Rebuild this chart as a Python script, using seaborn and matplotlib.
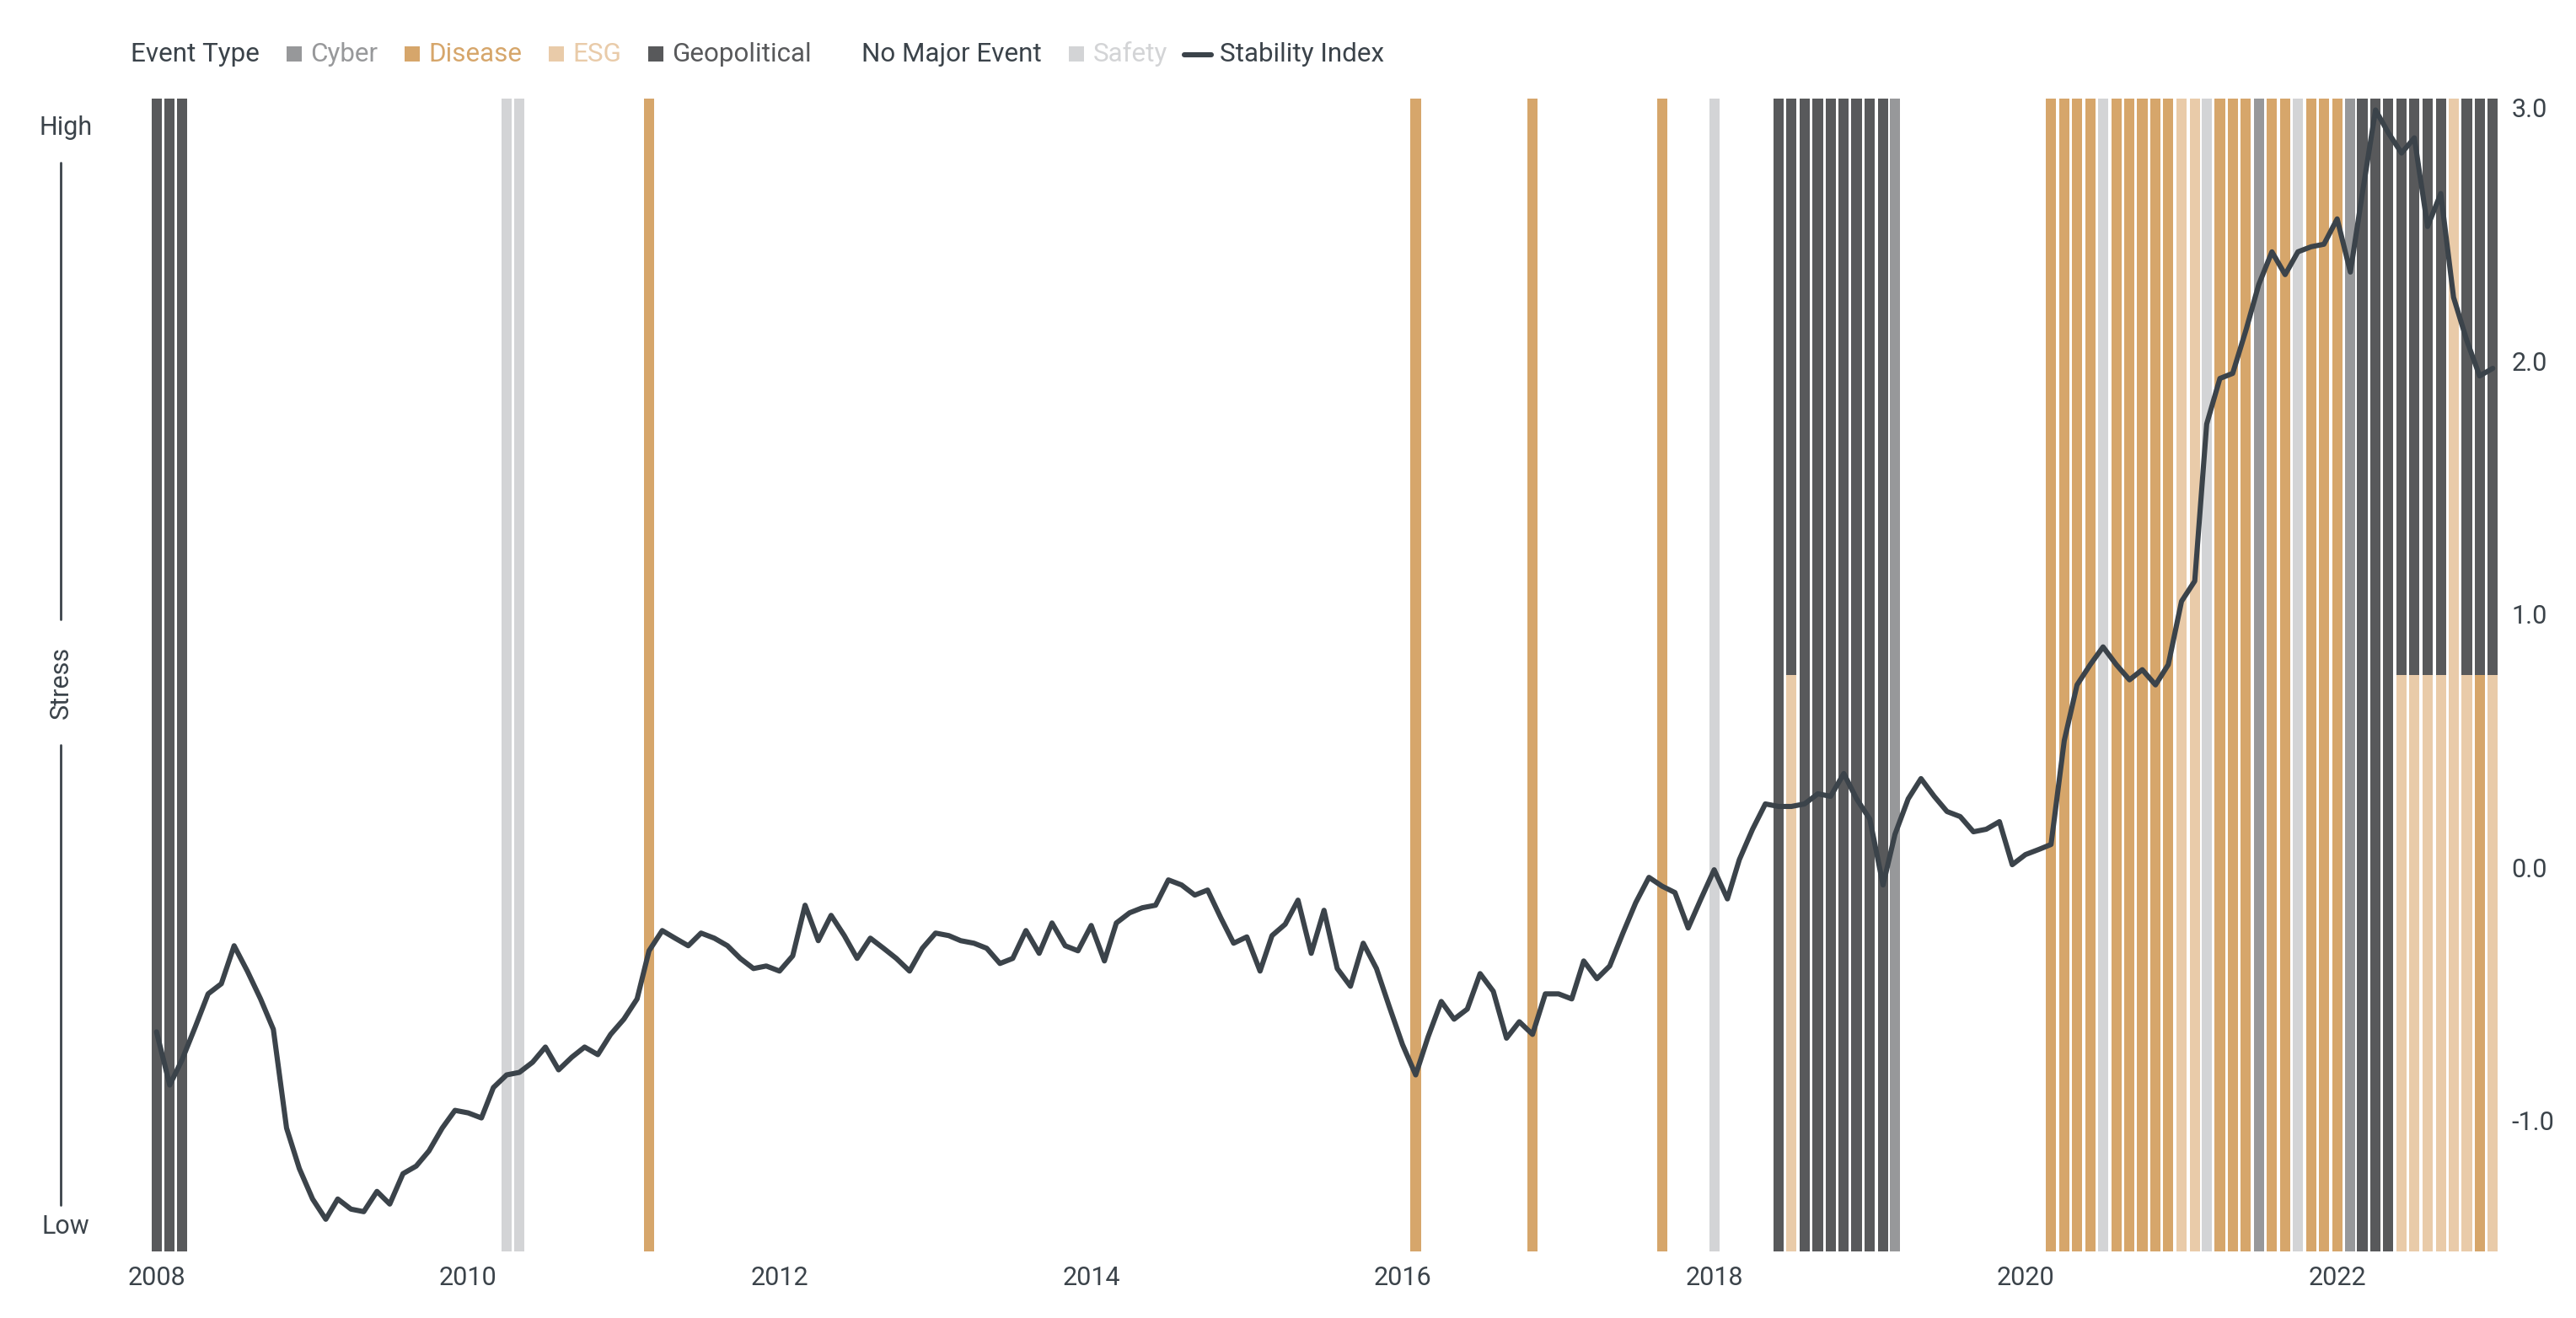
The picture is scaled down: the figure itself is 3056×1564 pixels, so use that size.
import pandas as pd
import matplotlib
matplotlib.use("Agg")
import matplotlib.pyplot as plt
import matplotlib.dates as mdates
from matplotlib.patches import Rectangle
from matplotlib.lines import Line2D
import seaborn as sns

# monthly stability index, Jan 2008 - Jan 2023
stability_index = [
    -0.65, -0.86, -0.76, -0.63, -0.50, -0.46, -0.31, -0.41, -0.52, -0.64, -1.03, -1.19,
    -1.31, -1.39, -1.31, -1.35, -1.36, -1.28, -1.33, -1.21, -1.18, -1.12, -1.03, -0.96,
    -0.97, -0.99, -0.87, -0.82, -0.81, -0.77, -0.71, -0.80, -0.75, -0.71, -0.74, -0.66,
    -0.60, -0.52, -0.33, -0.25, -0.28, -0.31, -0.26, -0.28, -0.31, -0.36, -0.40, -0.39,
    -0.41, -0.35, -0.15, -0.29, -0.19, -0.27, -0.36, -0.28, -0.32, -0.36, -0.41, -0.32,
    -0.26, -0.27, -0.29, -0.30, -0.32, -0.38, -0.36, -0.25, -0.34, -0.22, -0.31, -0.33,
    -0.23, -0.37, -0.22, -0.18, -0.16, -0.15, -0.05, -0.07, -0.11, -0.09, -0.20, -0.30,
    -0.275, -0.41, -0.27, -0.225, -0.13, -0.34, -0.17, -0.40, -0.47, -0.30, -0.40, -0.55,
    -0.70, -0.82, -0.67, -0.53, -0.60, -0.56, -0.42, -0.49, -0.675, -0.61, -0.66, -0.50,
    -0.50, -0.52, -0.37, -0.44, -0.39, -0.26, -0.14, -0.04, -0.075, -0.10, -0.24, -0.125,
    -0.01, -0.125, 0.03, 0.15, 0.25, 0.24, 0.24, 0.25, 0.29, 0.28, 0.37, 0.27,
    0.19, -0.07, 0.13, 0.27, 0.35, 0.28, 0.22, 0.20, 0.14, 0.15, 0.18, 0.01,
    0.05, 0.07, 0.09, 0.50, 0.72, 0.80, 0.87, 0.80, 0.74, 0.78, 0.72, 0.80,
    1.05, 1.13, 1.75, 1.93, 1.95, 2.12, 2.30, 2.43, 2.34, 2.43, 2.45, 2.46,
    2.56, 2.35, 2.66, 2.99, 2.90, 2.82, 2.88, 2.53, 2.66, 2.25, 2.08, 1.94,
    1.97,
]
index_dates = pd.date_range("2008-01-01", periods=len(stability_index), freq="MS")

# months with a major event, per event type
cyber_months = ["2019-03", "2021-07", "2022-02"]
disease_months = ["2011-03", "2016-02", "2016-11", "2017-09",
                  "2020-03", "2020-04", "2020-05", "2020-06", "2020-08", "2020-09",
                  "2020-10", "2020-11", "2020-12", "2021-04", "2021-05", "2021-06",
                  "2021-08", "2021-09", "2021-11", "2021-12", "2022-01", "2022-12"]
esg_months = ["2018-07", "2021-01", "2021-02", "2022-06", "2022-07", "2022-08",
              "2022-09", "2022-10", "2022-11", "2023-01"]
geo_months = ["2008-01", "2008-02", "2008-03",
              "2018-06", "2018-07", "2018-08", "2018-09", "2018-10", "2018-11",
              "2018-12", "2019-01", "2019-02",
              "2022-03", "2022-04", "2022-05", "2022-06", "2022-07", "2022-08",
              "2022-09", "2022-11", "2022-12", "2023-01"]
safety_months = ["2010-04", "2010-05", "2018-01", "2020-07", "2021-03", "2021-10"]

event_types = ["Cyber", "Disease", "ESG", "Geopolitical", "No Major Event", "Safety"]
colors = {"Cyber": "#97989a", "Disease": "#d6a66b", "ESG": "#e9cba9",
          "Geopolitical": "#58595b", "No Major Event": "#ffffff", "Safety": "#d3d4d6"}
label_colors = {"Cyber": "#97989a", "Disease": "#d6a66b", "ESG": "#e9cba9",
                "Geopolitical": "#58595b", "No Major Event": "#3b434a", "Safety": "#d3d4d6"}
DARK = "#3b434a"

rows = []
for t, months in [("Cyber", cyber_months), ("Disease", disease_months), ("ESG", esg_months),
                  ("Geopolitical", geo_months), ("Safety", safety_months)]:
    for mo in months:
        rows.append((pd.Timestamp(mo + "-01"), t))
events = pd.DataFrame(rows, columns=["date", "type"]).sort_values(["date", "type"])
events["share"] = 1 / events.groupby("date")["type"].transform("count")
events["bottom"] = events.groupby("date")["share"].cumsum() - events["share"]

sns.set_theme(style="white")
plt.rcParams["font.family"] = ["Roboto", "DejaVu Sans"]
plt.rcParams["axes.unicode_minus"] = False

W, H, DPI = 3056, 1564, 200
fig = plt.figure(figsize=(W / DPI, H / DPI), dpi=DPI)
fig.patch.set_facecolor("white")
ax = fig.add_axes([170 / W, 1 - 1485 / H, (2975 - 170) / W, (1485 - 117) / H])
ax2 = ax.twinx()

for t in event_types:
    sub = events[events["type"] == t]
    if len(sub):
        ax.bar(sub["date"], sub["share"], bottom=sub["bottom"], width=24,
               color=colors[t], linewidth=0)
ax.set_ylim(0, 1)
ax.set_yticks([])

sns.lineplot(x=index_dates, y=stability_index, ax=ax2, color=DARK, linewidth=2.2)
ax2.set_ylim(-1.517, 3.035)
ax2.set_yticks([-1, 0, 1, 2, 3])
ax2.yaxis.set_major_formatter(lambda v, p: f"{v:.1f}")
ax2.set_ylabel("")
ax2.set_xlabel("")

ax.set_xlim(pd.Timestamp("2007-12-01"), pd.Timestamp("2023-02-05"))
ax.xaxis.set_major_locator(mdates.YearLocator(2))
ax.xaxis.set_major_formatter(mdates.DateFormatter("%Y"))
ax.tick_params(axis="x", length=0, pad=6, labelsize=11, labelcolor=DARK)
ax2.tick_params(axis="y", length=0, pad=1.5, labelsize=11, labelcolor=DARK)
for a in (ax, ax2):
    for s in a.spines.values():
        s.set_visible(False)
    a.grid(False)

# left stress annotation
fig.text(78 / W, 1 - 151 / H, "High", ha="center", va="center", fontsize=11, color=DARK)
fig.text(78 / W, 1 - 1456 / H, "Low", ha="center", va="center", fontsize=11, color=DARK)
fig.text(72 / W, 1 - 810 / H, "Stress", ha="center", va="center", rotation=90,
         fontsize=11, color=DARK)
for y0, y1 in [(193, 735), (884, 1430)]:
    fig.add_artist(Line2D([72 / W, 72 / W], [1 - y0 / H, 1 - y1 / H], color=DARK, lw=1.0))

# legend row
renderer = fig.canvas.get_renderer()
base = H - 73
LEG_FS = 11.3
t = fig.text(155 / W, base / H, "Event Type", ha="left", va="baseline", fontsize=LEG_FS, color=DARK)
cursor = 155 + t.get_window_extent(renderer).width
items = [(et, "square") for et in event_types] + [("Stability Index", "line")]
for name, kind in items:
    if kind == "square":
        center = cursor + 41
        w = 18
        fig.add_artist(Rectangle(((center - 9) / W, base / H), 18 / W, 18 / H,
                                 transform=fig.transFigure, color=colors[name], lw=0))
        tc = label_colors[name]
    else:
        center = cursor + 36
        w = 32
        fig.add_artist(Line2D([(center - 16) / W, (center + 16) / W],
                              [(base + 8) / H, (base + 8) / H], color=DARK, lw=2.2))
        tc = DARK
    tx = center + w / 2 + 10
    t = fig.text(tx / W, base / H, name, ha="left", va="baseline", fontsize=LEG_FS, color=tc)
    cursor = tx + t.get_window_extent(renderer).width

fig.savefig("out.png", dpi=DPI, facecolor="white")
